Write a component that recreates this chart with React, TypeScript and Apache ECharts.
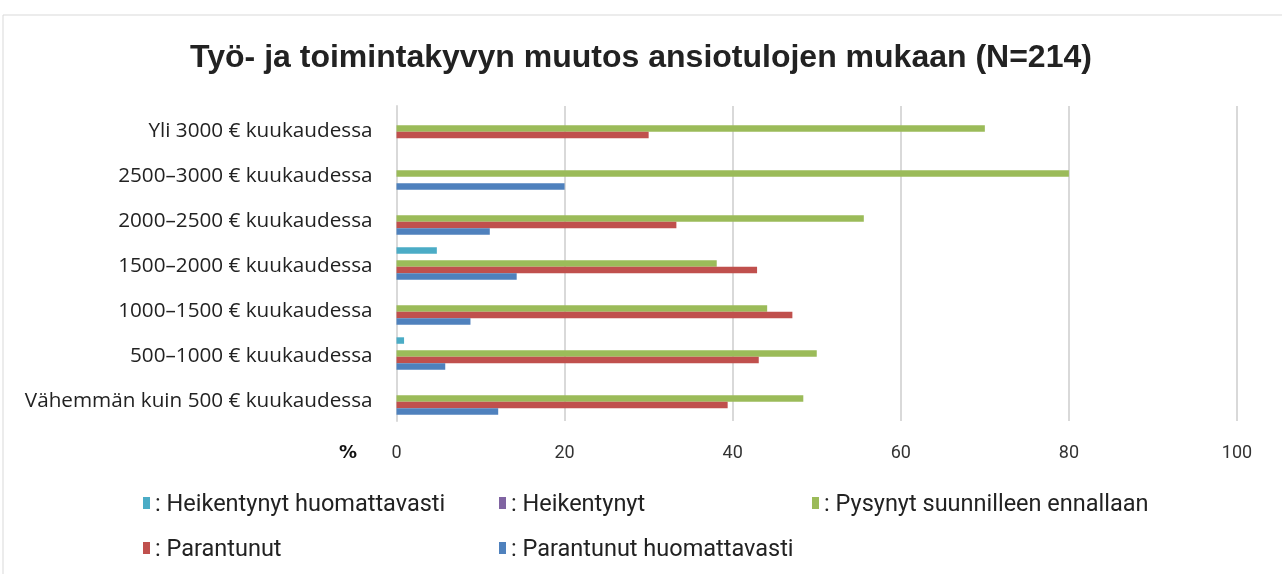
import React, { useEffect, useRef } from "react";
import * as echarts from "echarts";

const categories = [
  "Vähemmän kuin 500 € kuukaudessa",
  "500–1000 € kuukaudessa",
  "1000–1500 € kuukaudessa",
  "1500–2000 € kuukaudessa",
  "2000–2500 € kuukaudessa",
  "2500–3000 € kuukaudessa",
  "Yli 3000 € kuukaudessa",
];
const seriesNames = [
  "Heikentynyt huomattavasti",
  "Heikentynyt",
  "Pysynyt suunnilleen ennallaan",
  "Parantunut",
  "Parantunut huomattavasti",
];
const heikentynytHuomattavasti = [0, 0.9, 0, 4.8, 0, 0, 0];
const heikentynyt = [0, 0, 0, 0, 0, 0, 0];
const pysynyt = [48.4, 50.0, 44.1, 38.1, 55.6, 80.0, 70.0];
const parantunut = [39.4, 43.1, 47.1, 42.9, 33.3, 0, 30.0];
const parantunutHuomattavasti = [12.1, 5.8, 8.8, 14.3, 11.1, 20.0, 0];
const xTicks = { min: 0, max: 100, interval: 20 };
const colors = ["#4bacc6", "#8064a2", "#9bbb59", "#c0504d", "#4f81bd"];

export default function App() {
  const ref = useRef<HTMLDivElement>(null);
  useEffect(() => {
    if (!ref.current) return;
    const chart = echarts.init(ref.current, undefined, { renderer: "svg" });
    const values = [heikentynytHuomattavasti, heikentynyt, pysynyt, parantunut, parantunutHuomattavasti];
    const legendPos = [
      { left: 138, top: 486 },
      { left: 494, top: 486 },
      { left: 807, top: 486 },
      { left: 138, top: 531 },
      { left: 494, top: 531 },
    ];
    chart.setOption({
      animation: false,
      title: {
        text: "Työ- ja toimintakyvyn muutos ansiotulojen mukaan (N=214)",
        left: "center",
        top: 35,
        textStyle: { fontFamily: "Liberation Sans", fontSize: 32, fontWeight: "bold", color: "#222" },
      },
      graphic: [
        {
          type: "rect",
          shape: { x: 3, y: 15, width: 1290, height: 580 },
          style: { fill: "none", stroke: "#d9d9d9", lineWidth: 1 },
          silent: true,
        },
        {
          type: "text",
          left: 339,
          top: 442,
          style: { text: "%", font: "bold 18px 'DejaVu Sans'", fill: "#111" },
        },
      ],
      legend: seriesNames.map((n, i) => ({
        data: [n],
        left: legendPos[i].left,
        top: legendPos[i].top,
        icon: "rect",
        itemWidth: 7,
        itemHeight: 12,
        itemGap: 5,
        formatter: (name: string) => ": " + name,
        textStyle: { fontFamily: "Roboto", fontSize: 23.5, color: "#222" },
      })),
      grid: { left: 396.5, right: 45, top: 106, bottom: 153, containLabel: false },
      xAxis: {
        type: "value",
        min: xTicks.min,
        max: xTicks.max,
        interval: xTicks.interval,
        axisLine: { show: false },
        axisTick: { show: false },
        splitLine: { lineStyle: { color: "#d9d9d9", width: 2 } },
        axisLabel: { fontFamily: "Roboto", fontSize: 18, color: "#333", margin: 21 },
      },
      yAxis: {
        type: "category",
        data: categories,
        axisLine: { show: true, lineStyle: { color: "#d9d9d9", width: 2 } },
        axisTick: { show: false },
        axisLabel: { fontFamily: "Open Sans", fontSize: 20.7, color: "#222", margin: 24 },
      },
      series: seriesNames.map((n, i) => ({
        name: n,
        type: "bar",
        data: values[i],
        barGap: "0%",
        barCategoryGap: "28%",
        itemStyle: { color: colors[i] },
      })),
    });
    return () => chart.dispose();
  }, []);
  return <div ref={ref} style={{ position: "fixed", left: 0, top: 0, width: 1282, height: 574 }} />;
}
